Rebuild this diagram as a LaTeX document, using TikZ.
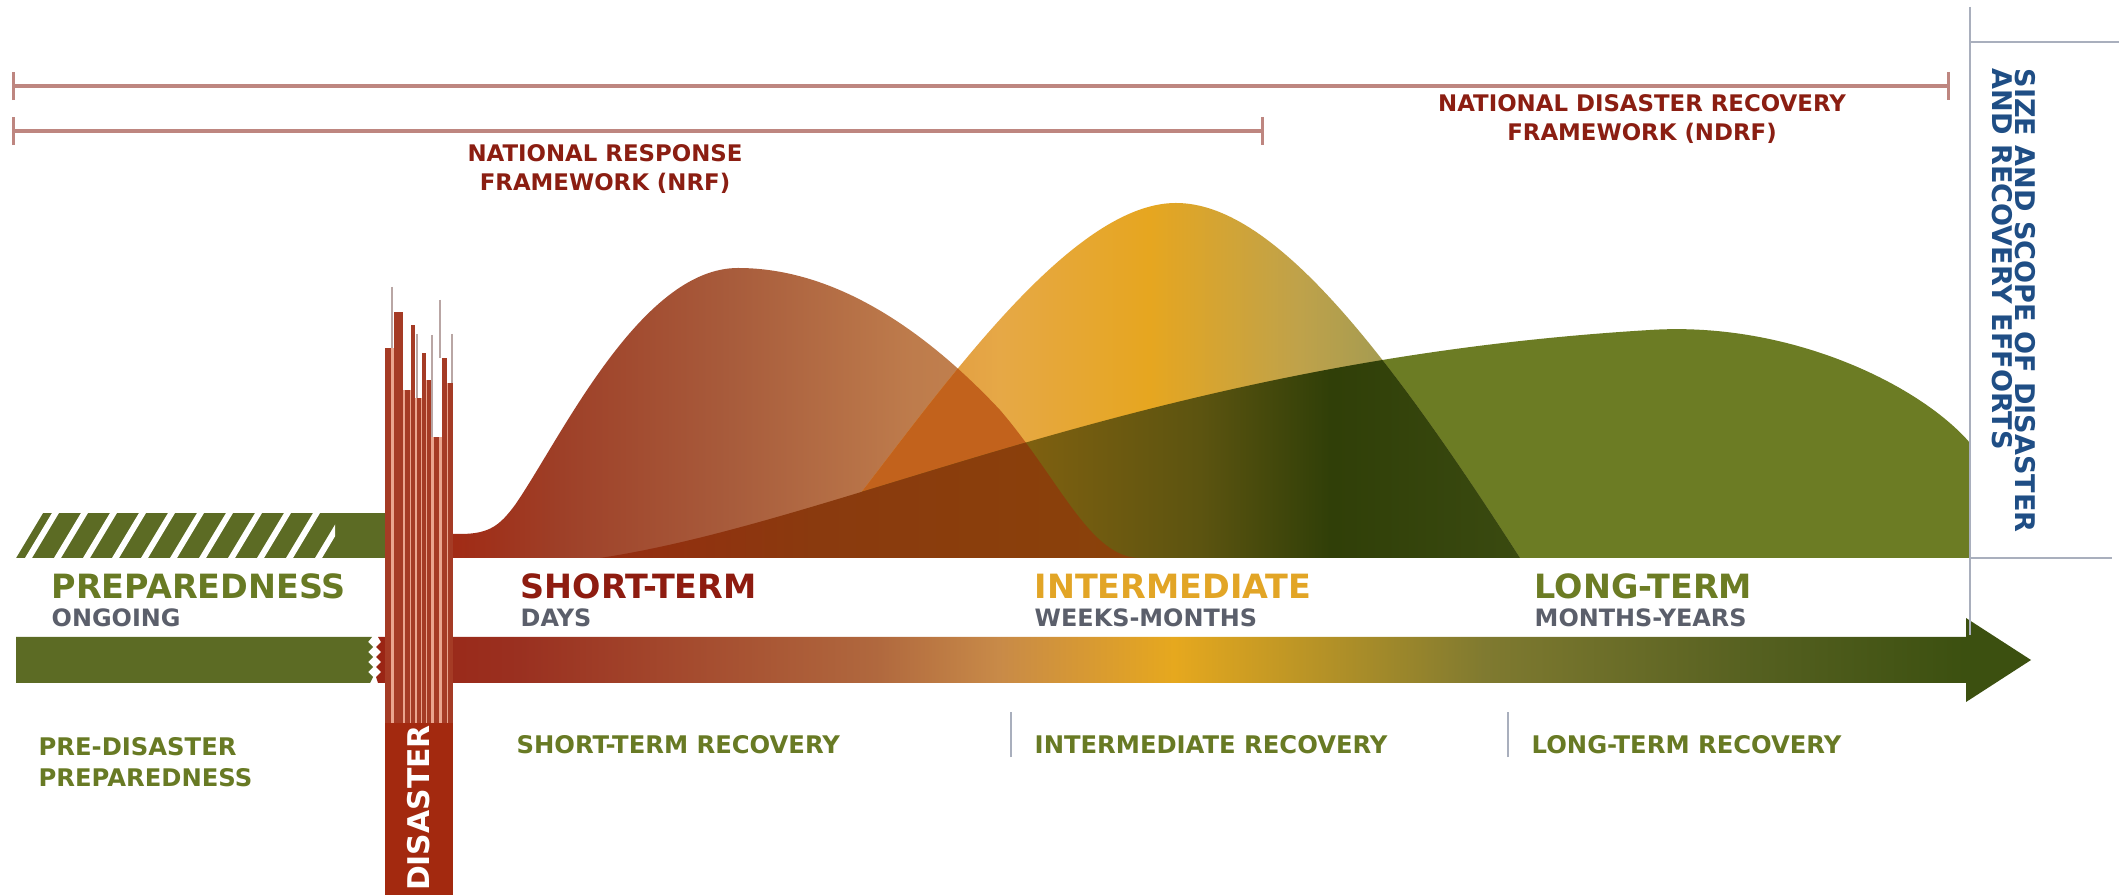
\documentclass[tikz,border=0pt]{standalone}
\usepackage{fontspec}
\setmainfont{DejaVu Sans}
\usetikzlibrary{arrows.meta, positioning}

\definecolor{fwred}{HTML}{8B1E12}
\definecolor{bracketc}{HTML}{BE8680}
\definecolor{prepgreen}{HTML}{687A24}
\definecolor{barsgreen}{HTML}{5C6B24}
\definecolor{longgreen}{HTML}{6C7C24}
\definecolor{goldlbl}{HTML}{E2A526}
\definecolor{greylbl}{HTML}{5B5F6B}
\definecolor{scopeblue}{HTML}{1F4E85}
\definecolor{disred}{HTML}{A3290F}
\definecolor{stripedark}{HTML}{A53B25}
\definecolor{stripelight}{HTML}{EAA58E}
\definecolor{spikegrey}{HTML}{B9A6A4}
\definecolor{rulegrey}{HTML}{A9AFBD}
\definecolor{shortlbl}{HTML}{8E1C10}
\definecolor{interorange}{HTML}{C2621C}

% horizontal shadings, 25bp..75bp is stretched over the shaded box
\pgfdeclarehorizontalshading{shortshade}{100bp}{rgb(0bp)=(.659,.133,.055); rgb(25bp)=(.659,.133,.055);
  rgb(30.7bp)=(.627,.180,.094); rgb(36.7bp)=(.62,.251,.157); rgb(48bp)=(.659,.361,.235);
  rgb(60bp)=(.745,.486,.298); rgb(75bp)=(.784,.541,.322); rgb(100bp)=(.784,.541,.322)}
\pgfdeclarehorizontalshading{midshade}{100bp}{rgb(0bp)=(.851,.522,.227); rgb(25bp)=(.851,.522,.227);
  rgb(38.5bp)=(.902,.659,.275); rgb(49bp)=(.902,.651,.125); rgb(59.5bp)=(.749,.635,.29);
  rgb(66.5bp)=(.627,.604,.322); rgb(75bp)=(.58,.588,.314); rgb(100bp)=(.58,.588,.314)}
\pgfdeclarehorizontalshading{midlongshade}{100bp}{rgb(0bp)=(.55,.353,.063); rgb(25bp)=(.55,.353,.063);
  rgb(40.6bp)=(.494,.376,.063); rgb(52.5bp)=(.361,.329,.063); rgb(61.7bp)=(.188,.247,.031);
  rgb(75bp)=(.227,.29,.063); rgb(100bp)=(.227,.29,.063)}
\pgfdeclarehorizontalshading{shortlongshade}{100bp}{rgb(0bp)=(.584,.173,.063); rgb(25bp)=(.584,.173,.063);
  rgb(44.8bp)=(.541,.227,.055); rgb(75bp)=(.541,.259,.039); rgb(100bp)=(.541,.259,.039)}
\pgfdeclarehorizontalshading{arrowshade}{100bp}{rgb(0bp)=(.604,.141,.078); rgb(25bp)=(.604,.141,.078);
  rgb(29.3bp)=(.604,.188,.125); rgb(40.1bp)=(.69,.408,.243); rgb(43.8bp)=(.784,.541,.282);
  rgb(49.1bp)=(.902,.659,.118); rgb(58.5bp)=(.5,.478,.188); rgb(66.7bp)=(.333,.376,.125);
  rgb(73bp)=(.235,.314,.063); rgb(100bp)=(.235,.314,.063)}

% outlines of the three recovery curves
\newcommand{\shortcurve}{(385,513) .. controls (410,528) and (430,534) .. (460,534)
  .. controls (490,534) and (500,525) .. (515,505) .. controls (560,440) and (640,268) .. (738,268)
  .. controls (835,268) and (925,330) .. (1000,410) .. controls (1060,480) and (1090,558) .. (1140,558)
  -- (385,558) -- cycle}
\newcommand{\midcurve}{(807,558) .. controls (890,470) and (1050,203) .. (1176,203)
  .. controls (1270,203) and (1380,340) .. (1520,558) -- cycle}
\newcommand{\longcurve}{(600,558) .. controls (850,520) and (1150,360) .. (1650,330)
  .. controls (1790,321) and (1920,385) .. (1970,443) -- (1970,558) -- cycle}

\begin{document}
\begin{tikzpicture}[x=0.01cm, y=-0.01cm,
    bracket/.style={draw=bracketc, line width=0.9pt, {Bar[width=8pt]}-{Bar[width=8pt]}},
    fwlabel/.style={font=\fontsize{6.5}{8.2}\selectfont\bfseries, text=fwred, align=center, inner sep=0pt},
    phase/.style={font=\fontsize{9.5}{11}\selectfont\bfseries, anchor=base west, inner sep=0pt},
    duration/.style={font=\fontsize{6.8}{8}\selectfont\bfseries, text=greylbl, inner sep=0pt},
    recov/.style={font=\fontsize{6.9}{8.8}\selectfont\bfseries, text=prepgreen, anchor=west, align=left, inner sep=0pt},
    divider/.style={draw=rulegrey, line width=0.6pt}
  ]
  \path[use as bounding box, fill=white] (0,0) rectangle (2119,895);

  % frameworks
  \coordinate (ndrfL) at (12,86);
  \coordinate (ndrfR) at (1950,86);
  \coordinate (nrfL) at (12,131);
  \coordinate (nrfR) at (1264,131);
  \draw[bracket] (ndrfL) -- (ndrfR);
  \draw[bracket] (nrfL) -- (nrfR);
  \node[fwlabel, anchor=north] (nrf) at (605,144) {NATIONAL RESPONSE\\FRAMEWORK (NRF)};
  \node[fwlabel, anchor=north] (ndrf) at (1642,94) {NATIONAL DISASTER RECOVERY\\FRAMEWORK (NDRF)};

  % curves
  \fill[longgreen] \longcurve;
  \shade[shading=shortshade] \shortcurve;
  \shade[shading=midshade] \midcurve;
  \begin{scope}
    \clip \shortcurve;
    \clip \midcurve;
    \fill[interorange] (800,200) rectangle (1140,560);
  \end{scope}
  \begin{scope}
    \clip \midcurve;
    \clip \longcurve;
    \shade[shading=midlongshade] (808,200) rectangle (1520,560);
  \end{scope}
  \begin{scope}
    \clip \shortcurve;
    \clip \longcurve;
    \shade[shading=shortlongshade] (600,200) rectangle (1140,560);
  \end{scope}

  % preparedness bar with hatching
  \fill[barsgreen] (16,513) rectangle (385,558);
  \begin{scope}
    \clip (0,500) rectangle (335,570);
    \fill[white] (0,558) -- (16,558) -- (43,513) -- (0,513) -- cycle;
    \foreach \i in {0,...,10}
      \fill[white] ({42+29*\i-17},558) -- ++(7,0) -- ++(27,-45) -- ++(-7,0) -- cycle;
  \end{scope}

  % timeline arrow
  \fill[barsgreen] (16,637) -- (372,637) -- (368,642) -- (373,647) -- (368,652) -- (373,657)
    -- (368,662) -- (373,667) -- (368,672) -- (373,677) -- (370,683) -- (16,683) -- cycle;
  \shade[shading=arrowshade] (378,637) -- (1966,637) -- (1966,618) -- (2031,660) -- (1966,702)
    -- (1966,683) -- (378,683) -- (376,677) -- (381,672) -- (376,667) -- (381,662) -- (376,657)
    -- (381,652) -- (376,647) -- (381,642) -- cycle;

  % disaster column
  \foreach \xa/\xb/\ytop in {391/394/348, 403/405/390, 410/411/390, 415/417/398, 421/422/398,
      426/427/380, 431/434/437, 439/442/437, 447/448/383}
    \fill[stripelight] (\xa,\ytop) rectangle (\xb,723);
  \foreach \xa/\xb/\ytop in {385/391/348, 394/403/312, 405/410/390, 411/415/325, 417/421/398,
      422/426/353, 427/431/380, 434/439/437, 442/447/358, 448/453/383}
    \fill[stripedark] (\xa,\ytop) rectangle (\xb,723);
  \foreach \xa/\ya/\yb in {392/287/348, 417/334/398, 432/335/437, 440/300/358, 452/334/383}
    \draw[spikegrey, line width=0.5pt] (\xa,\ya) -- (\xa,\yb);
  \fill[disred] (385,723) rectangle (453,895);
  \node[rotate=90, text=white, font=\fontsize{8.5}{10}\selectfont\bfseries, inner sep=0pt] (disaster) at (419,808) {DISASTER};

  % phase labels
  \node[phase, text=prepgreen] (prep) at (51,599) {PREPAREDNESS};
  \node[phase, text=shortlbl] (short) at (520,599) {SHORT-TERM};
  \node[phase, text=goldlbl] (inter) at (1034,599) {INTERMEDIATE};
  \node[phase, text=longgreen] (long) at (1534,599) {LONG-TERM};
  \node[duration, below=2.3pt of prep.south west, anchor=north west] (ongoing) {ONGOING};
  \node[duration, below=2.3pt of short.south west, anchor=north west] (days) {DAYS};
  \node[duration, below=2.3pt of inter.south west, anchor=north west] (weeks) {WEEKS-MONTHS};
  \node[duration, below=2.3pt of long.south west, anchor=north west] (years) {MONTHS-YEARS};

  % recovery stages
  \node[recov, anchor=north west] (prerec) at (38,737) {PRE-DISASTER\\PREPAREDNESS};
  \node[recov] (shortrec) at (516,745) {SHORT-TERM RECOVERY};
  \node[recov] (interrec) at (1034,745) {INTERMEDIATE RECOVERY};
  \node[recov] (longrec) at (1531,745) {LONG-TERM RECOVERY};
  \draw[divider] ([xshift=-6.5pt]interrec.west) ++(0,12) -- ++(0,-45);
  \draw[divider] ([xshift=-6.5pt]longrec.west) ++(0,12) -- ++(0,-45);

  % size and scope axis
  \draw[divider] (1970,7) -- (1970,635);
  \draw[divider] (1970,42) -- (2119,42);
  \draw[divider] (1970,558) -- (2112,558);
  \node[rotate=-90, anchor=north west, align=left, inner sep=0pt, text=scopeblue,
    font=\fontsize{7.7}{6.4}\selectfont\bfseries] (scope) at (2036,68) {SIZE AND SCOPE OF DISASTER\\AND RECOVERY EFFORTS};
\end{tikzpicture}
\end{document}
